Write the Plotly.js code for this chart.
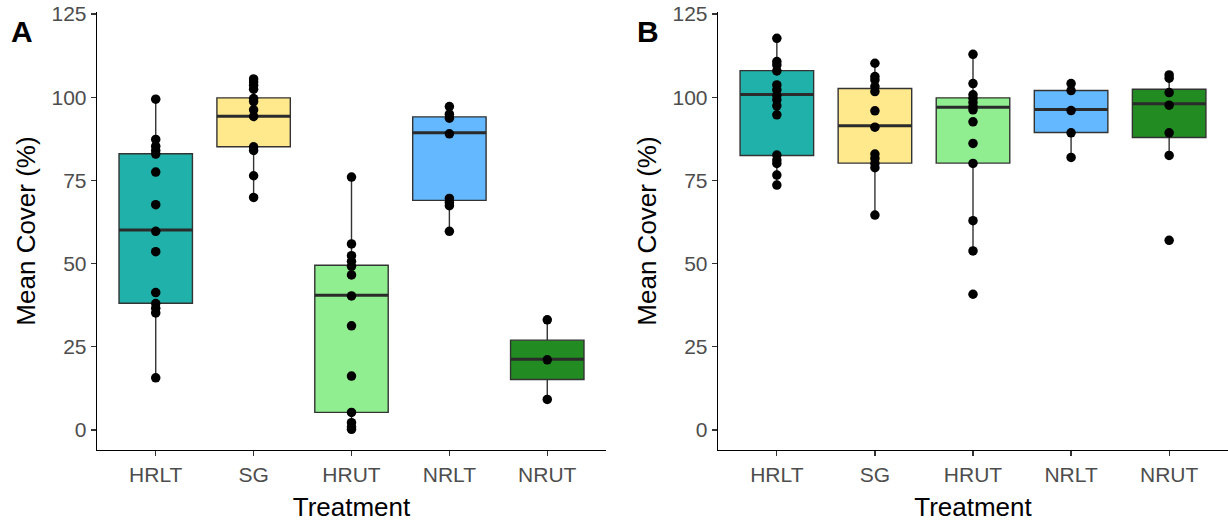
<!DOCTYPE html>
<html>
<head>
<meta charset="utf-8">
<script src="https://cdn.plot.ly/plotly-3.0.1.min.js"></script>
<style>html,body{margin:0;padding:0;background:#fff;}#chart{width:1228px;height:522px;}</style>
</head>
<body>
<div id="chart"></div>
<script>
// ---------- data ----------
const categories = ['HRLT', 'SG', 'HRUT', 'NRLT', 'NRUT'];
const colors = ['#20B2AA', '#FFE98C', '#90EE90', '#63B8FF', '#228B22'];
const yTicks = [0, 25, 50, 75, 100, 125];

// Panel A: individual mean cover values
const A_HRLT = [99.4, 87.3, 85.3, 84.0, 82.9, 77.5, 67.7, 59.7, 53.6, 41.3, 38.0, 36.6, 35.2, 15.7];
const A_SG   = [105.5, 104.6, 103.6, 102.4, 99.6, 98.7, 96.2, 94.2, 85.1, 84.0, 76.4, 69.9];
const A_HRUT = [76.0, 55.9, 52.4, 50.7, 49.2, 46.6, 40.3, 31.3, 16.2, 5.3, 2.2, 0.9, 0.2];
const A_NRLT = [97.2, 94.9, 93.7, 89.0, 69.6, 68.4, 67.4, 59.7];
const A_NRUT = [33.1, 21.1, 9.2];
// Panel A box statistics (per category order)
const A_q1  = [38.1, 85.1, 5.3, 69.0, 15.2];
const A_med = [60.1, 94.3, 40.5, 89.3, 21.3];
const A_q3  = [83.0, 99.8, 49.5, 94.1, 27.0];
const A_lo  = [15.7, 69.9, 0.2, 59.7, 9.2];
const A_hi  = [99.4, 105.5, 76.0, 97.2, 33.1];

// Panel B
const B_HRLT = [117.7, 110.7, 109.7, 107.9, 103.7, 102.2, 100.5, 99.2, 97.4, 94.7, 82.6, 81.1, 80.1, 76.6, 73.6];
const B_SG   = [110.2, 106.2, 105.2, 103.2, 101.7, 95.9, 91.0, 82.9, 81.6, 80.1, 78.8, 64.6];
const B_HRUT = [112.9, 104.1, 100.7, 99.6, 98.4, 97.2, 96.2, 92.6, 86.1, 80.1, 62.9, 53.8, 40.8];
const B_NRLT = [104.1, 102.0, 96.0, 89.3, 81.9];
const B_NRUT = [106.7, 105.7, 101.4, 97.6, 89.3, 82.5, 57.0];
const B_q1  = [82.5, 80.2, 80.2, 89.4, 87.9];
const B_med = [100.8, 91.4, 97.0, 96.3, 98.0];
const B_q3  = [108.0, 102.6, 99.8, 102.0, 102.4];
const B_lo  = [73.6, 64.6, 53.8, 81.9, 82.5];
const B_hi  = [117.7, 110.2, 112.9, 104.1, 106.7];

// ---------- build traces ----------
const FONT = '"Liberation Sans", Arial, sans-serif';
const traces = [];
function addPanel(points, q1, med, q3, lo, hi, xa, ya) {
  categories.forEach((c, i) => {
    traces.push({
      type: 'box', x: [c], q1: [q1[i]], median: [med[i]], q3: [q3[i]],
      lowerfence: [lo[i]], upperfence: [hi[i]],
      xaxis: xa, yaxis: ya, width: 0.75, whiskerwidth: 0,
      fillcolor: colors[i], line: {color: '#333333', width: 1.4},
      boxpoints: false, showlegend: false, hoverinfo: 'skip'
    });
    // thicker median line
    traces.push({
      type: 'box', x: [c], q1: [med[i]], median: [med[i]], q3: [med[i]],
      lowerfence: [med[i]], upperfence: [med[i]],
      xaxis: xa, yaxis: ya, width: 0.75, whiskerwidth: 0,
      fillcolor: 'rgba(0,0,0,0)', line: {color: '#2b2b2b', width: 3},
      boxpoints: false, showlegend: false, hoverinfo: 'skip'
    });
  });
  categories.forEach((c, i) => {
    traces.push({
      type: 'scatter', mode: 'markers', x: points[i].map(() => c), y: points[i],
      xaxis: xa, yaxis: ya, cliponaxis: false,
      marker: {color: '#000000', size: 9.5}, showlegend: false, hoverinfo: 'skip'
    });
  });
}
addPanel([A_HRLT, A_SG, A_HRUT, A_NRLT, A_NRUT], A_q1, A_med, A_q3, A_lo, A_hi, 'x', 'y');
addPanel([B_HRLT, B_SG, B_HRUT, B_NRLT, B_NRUT], B_q1, B_med, B_q3, B_lo, B_hi, 'x2', 'y2');

function xAxis(domain, anchor) {
  return {
    domain: domain, anchor: anchor, type: 'category', categoryorder: 'array', categoryarray: categories,
    range: [-0.6, 4.6], showgrid: false, zeroline: false,
    showline: true, linecolor: '#000000', linewidth: 1.3,
    ticks: 'outside', ticklen: 5, tickwidth: 1.2, tickcolor: '#333333',
    tickfont: {family: FONT, size: 21, color: '#4D4D4D'},
    title: {text: 'Treatment', font: {family: FONT, size: 26, color: '#000000'}, standoff: 16},
    automargin: false, fixedrange: true
  };
}
function yAxis(domain, anchor) {
  return {
    domain: domain, anchor: anchor, range: [-6, 125.6], tickvals: yTicks,
    showgrid: false, zeroline: false,
    showline: true, linecolor: '#000000', linewidth: 1.3,
    ticks: 'outside', ticklen: 5, tickwidth: 1.2, tickcolor: '#333333',
    tickfont: {family: FONT, size: 21, color: '#4D4D4D'},
    title: {text: 'Mean Cover (%)', font: {family: FONT, size: 26, color: '#000000'}, standoff: 8},
    automargin: false, fixedrange: true
  };
}
const yDom = [72 / 522, 510 / 522];
const layout = {
  width: 1228, height: 522,
  margin: {l: 0, r: 0, t: 0, b: 0},
  paper_bgcolor: '#ffffff', plot_bgcolor: '#ffffff',
  boxmode: 'overlay',
  xaxis: xAxis([97 / 1228, 606 / 1228], 'y'),
  yaxis: yAxis(yDom, 'x'),
  xaxis2: xAxis([718 / 1228, 1], 'y2'),
  yaxis2: yAxis(yDom, 'x2'),
  annotations: [
    {text: '<b>A</b>', xref: 'paper', yref: 'paper', x: 22 / 1228, y: 1 - 31 / 522,
     xanchor: 'center', yanchor: 'middle', showarrow: false, font: {family: FONT, size: 30, color: '#000'}},
    {text: '<b>B</b>', xref: 'paper', yref: 'paper', x: 648 / 1228, y: 1 - 31 / 522,
     xanchor: 'center', yanchor: 'middle', showarrow: false, font: {family: FONT, size: 30, color: '#000'}}
  ],
  font: {family: FONT}
};
Plotly.newPlot('chart', traces, layout, {displayModeBar: false, staticPlot: true});
</script>
</body>
</html>
